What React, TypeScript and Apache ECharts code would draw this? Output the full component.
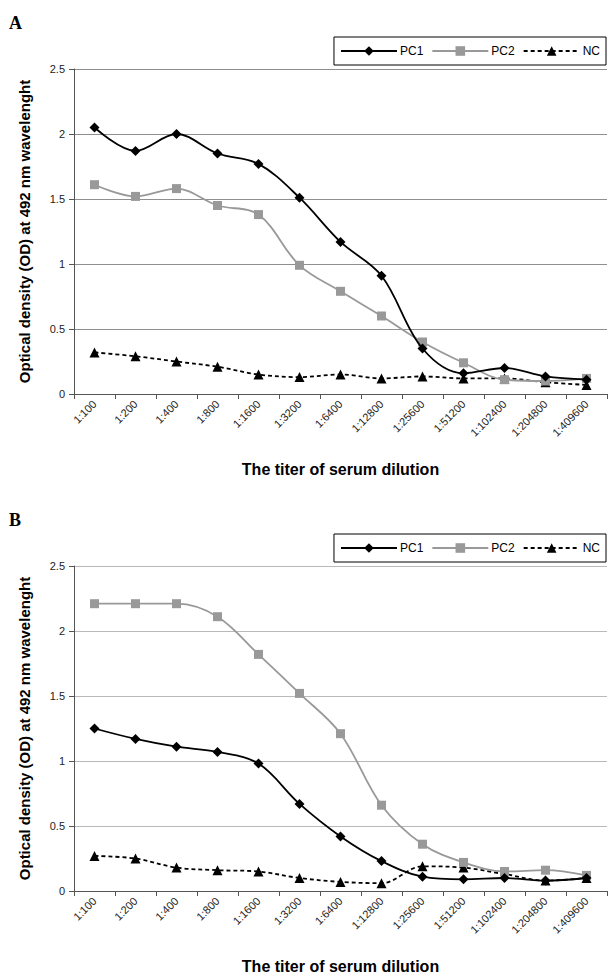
import React, { useEffect, useRef } from "react";
import * as echarts from "echarts";

const categories = [
  "1:100", "1:200", "1:400", "1:800", "1:1600", "1:3200", "1:6400",
  "1:12800", "1:25600", "1:51200", "1:102400", "1:204800", "1:409600",
];
const pc1A = [2.05, 1.87, 2.0, 1.85, 1.77, 1.51, 1.17, 0.91, 0.35, 0.16, 0.2, 0.135, 0.11];
const pc2A = [1.61, 1.52, 1.58, 1.45, 1.38, 0.99, 0.79, 0.6, 0.4, 0.24, 0.11, 0.1, 0.12];
const ncA = [0.32, 0.29, 0.25, 0.21, 0.15, 0.13, 0.15, 0.12, 0.135, 0.12, 0.12, 0.09, 0.07];
const pc1B = [1.25, 1.17, 1.11, 1.07, 0.98, 0.67, 0.42, 0.23, 0.11, 0.09, 0.1, 0.08, 0.1];
const pc2B = [2.21, 2.21, 2.21, 2.11, 1.82, 1.52, 1.21, 0.66, 0.36, 0.22, 0.15, 0.16, 0.12];
const ncB = [0.27, 0.25, 0.18, 0.16, 0.15, 0.1, 0.07, 0.06, 0.19, 0.18, 0.13, 0.08, 0.1];
const seriesNames = ["PC1", "PC2", "NC"];
const panelLabels = ["A", "B"];
const yMin = 0;
const yMax = 2.5;
const yStep = 0.5;
const xTitle = "The titer of serum dilution";
const yTitle = "Optical density (OD) at 492 nm wavelenght";

const FONT = "'Liberation Sans', Arial, sans-serif";
const GRAY = "#999999";

export default function App() {
  const ref = useRef<HTMLDivElement>(null);
  useEffect(() => {
    if (!ref.current) return;
    const chart = echarts.init(ref.current, null, { renderer: "svg" });
    const tops = [69, 566];
    const gridColors = ["#8f8f8f", "#b9b9b9"];
    const grids = tops.map((t) => ({ left: 74, top: t, width: 533, height: 325 }));
    const xAxes = tops.map((_, i) => ({
      type: "category",
      gridIndex: i,
      data: categories,
      boundaryGap: true,
      axisLine: { lineStyle: { color: "#555", width: 1 } },
      axisTick: { show: true, length: 5, lineStyle: { color: "#555" } },
      axisLabel: { interval: 0, rotate: 45, margin: 8, fontSize: 11, color: "#222", fontFamily: FONT },
      name: xTitle,
      nameLocation: "middle",
      nameGap: 67,
      nameTextStyle: { fontSize: 16, fontWeight: "bold", color: "#000", fontFamily: FONT },
    }));
    const yAxes = tops.map((_, i) => ({
      type: "value",
      gridIndex: i,
      min: yMin,
      max: yMax,
      interval: yStep,
      axisLine: { show: true, lineStyle: { color: "#555", width: 1 } },
      axisTick: { show: true, length: 5, lineStyle: { color: "#555" } },
      axisLabel: { margin: 9, fontSize: 11, color: "#222", fontFamily: FONT },
      splitLine: { show: true, lineStyle: { color: gridColors[i], width: 1 } },
      name: yTitle,
      nameLocation: "middle",
      nameGap: 42,
      nameTextStyle: { fontSize: 15, fontWeight: "bold", color: "#000", fontFamily: FONT },
    }));
    const dataSets = [
      [pc1A, pc2A, ncA],
      [pc1B, pc2B, ncB],
    ];
    const styles = [
      { color: "#000", symbol: "diamond", symbolSize: 10, type: "solid", width: 1.8 },
      { color: GRAY, symbol: "rect", symbolSize: 9, type: "solid", width: 1.8 },
      { color: "#000", symbol: "triangle", symbolSize: 10, type: [4, 3], width: 1.8 },
    ];
    const series: any[] = [];
    dataSets.forEach((ds, gi) => {
      ds.forEach((vals, si) => {
        const st = styles[si];
        series.push({
          type: "line",
          name: seriesNames[si],
          xAxisIndex: gi,
          yAxisIndex: gi,
          data: vals,
          smooth: 0.35,
          symbol: st.symbol,
          symbolSize: st.symbolSize,
          showAllSymbol: true,
          itemStyle: { color: st.color },
          lineStyle: { color: st.color, width: st.width, type: st.type },
          z: 3 - si,
        });
      });
    });
    const legends = tops.map((t) => ({
      top: t - 32,
      right: 2,
      orient: "horizontal",
      data: seriesNames,
      itemWidth: 56,
      itemHeight: 12,
      itemGap: 8,
      padding: [8, 6],
      backgroundColor: "#fff",
      borderColor: "#000",
      borderWidth: 1,
      borderRadius: 0,
      textStyle: { fontSize: 12, color: "#000", fontFamily: FONT, padding: [0, 0, 0, -2] },
      selectedMode: false,
    }));
    chart.setOption({
      animation: false,
      backgroundColor: "#fff",
      grid: grids,
      xAxis: xAxes,
      yAxis: yAxes,
      legend: legends,
      series,
      graphic: panelLabels.map((lab, i) => ({
        type: "text",
        left: 9,
        top: tops[i] - 55,
        style: {
          text: lab,
          font: "bold 18px 'Liberation Serif', 'Times New Roman', serif",
          fill: "#000",
        },
      })),
    });
    return () => chart.dispose();
  }, []);
  return (
    <div
      ref={ref}
      style={{ position: "absolute", left: 0, top: 0, width: 608, height: 978 }}
    />
  );
}
